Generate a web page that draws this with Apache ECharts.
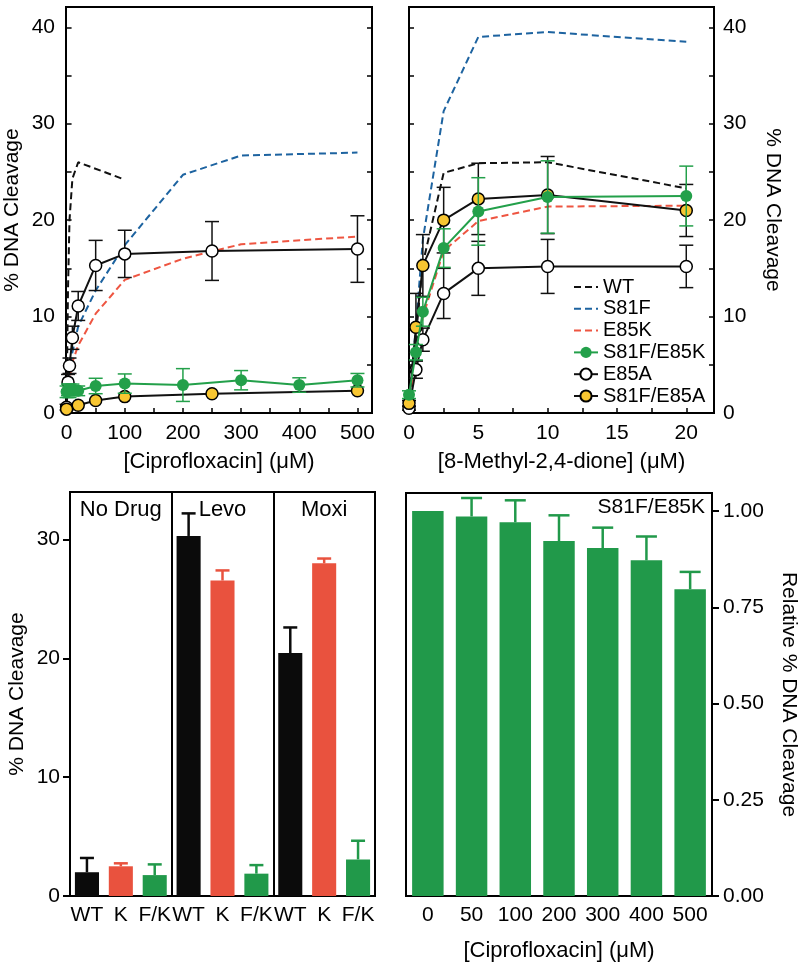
<!DOCTYPE html>
<html><head><meta charset="utf-8">
<script src="https://cdn.jsdelivr.net/npm/echarts@6/dist/echarts.min.js"></script>
<style>html,body{margin:0;padding:0;background:#fff}#c{width:800px;height:967px}</style>
</head><body><div id="c"></div>
<script>
// ---------- Panel A: [Ciprofloxacin] ----------
const cipWT_x = [0, 1, 2.5, 5, 10, 20, 100];
const cipWT_y = [0.5, 6, 13, 20, 24.3, 26, 24.2];
const cipS81F_x = [0, 5, 10, 20, 50, 100, 200, 300, 500];
const cipS81F_y = [0.5, 4, 6.3, 9, 12.7, 17.4, 24.7, 26.7, 27.0];
const cipE85K_x = [0, 5, 10, 20, 50, 100, 200, 300, 500];
const cipE85K_y = [0.5, 3.5, 5.3, 7, 10.3, 13.8, 16.0, 17.5, 18.3];
const cipFK_x = [0, 2.5, 5, 10, 20, 50, 100, 200, 300, 400, 500];
const cipFK_y = [2.2, 2.4, 2.3, 2.4, 2.3, 2.8, 3.05, 2.9, 3.4, 2.9, 3.4];
const cipFK_e = [0.6, 0.6, 0.7, 0.6, 0.5, 0.8, 1.0, 1.7, 1.0, 0.75, 0.7];
const cipE85A_x = [0, 2.5, 5, 10, 20, 50, 100, 250, 500];
const cipE85A_y = [0.6, 3.2, 4.9, 7.8, 11.1, 15.3, 16.5, 16.8, 17.0];
const cipE85A_e = [0.3, 0.8, 0.8, 1.2, 1.5, 2.6, 2.45, 3.05, 3.45];
const cipFA_x = [0, 20, 50, 100, 250, 500];
const cipFA_y = [0.4, 0.8, 1.3, 1.7, 2.0, 2.3];

// ---------- Panel B: [8-Methyl-2,4-dione] ----------
const metX = [0, 0.5, 1, 2.5, 5, 10, 20];
const metWT_y = [0.5, 8, 15.5, 24.9, 25.9, 26.0, 23.3];
const metS81F_y = [0.5, 9, 18, 31.3, 39.0, 39.5, 38.5];
const metE85K_y = [0.5, 6, 10, 16.8, 19.9, 21.4, 21.5];
const metFK_y = [1.9, 6.3, 10.5, 17.1, 20.9, 22.4, 22.5];
const metFK_e = [0.4, 0.8, 1.5, 2.0, 3.5, 3.75, 3.1];
const metE85A_y = [0.5, 4.5, 7.6, 12.4, 15.0, 15.2, 15.2];
const metE85A_e = [0.2, 0.9, 1.2, 2.6, 2.8, 2.8, 2.2];
const metFA_y = [1.0, 8.9, 15.3, 20.0, 22.2, 22.6, 21.0];
const metFA_e = [0.3, 3.5, 3.2, 3.4, 3.7, 4.0, 2.7];

// ---------- Panel C: bars ----------
const barCats = ['WT', 'K', 'F/K', 'WT', 'K', 'F/K', 'WT', 'K', 'F/K'];
const barVals = [2.0, 2.5, 1.76, 30.3, 26.55, 1.88, 20.45, 28.0, 3.08];
const barErr = [1.2, 0.25, 0.9, 1.9, 0.85, 0.72, 2.15, 0.4, 1.57];
const groupNames = ['No Drug', 'Levo', 'Moxi'];

// ---------- Panel D: relative ----------
const relCats = ['0', '50', '100', '200', '300', '400', '500'];
const relVals = [1.00, 0.986, 0.971, 0.922, 0.904, 0.872, 0.797];
const relErr = [0, 0.048, 0.057, 0.067, 0.053, 0.062, 0.045];

// ---------- styling ----------
const FONT = "'Liberation Sans', Arial, Helvetica, sans-serif";
const C_BLACK = '#111111', C_BLUE = '#1d63a0', C_RED = '#ee5541', C_GREEN = '#23a04a',
      C_YELLOW = '#f8c631', C_BAR_RED = '#e9523e', C_BAR_GREEN = '#21994a';
const barColorMap = { 'WT': '#0b0b0b', 'K': C_BAR_RED, 'F/K': C_BAR_GREEN };

const zip = (xs, ys) => xs.map((x, i) => [x, ys[i]]);
const errData = (xs, ys, es) => xs.map((x, i) => [x, ys[i] - es[i], ys[i] + es[i]]);

function errRender(capHalf, color, lw, upperOnly) {
  return function (params, api) {
    const x = api.value(0), lo = api.value(1), hi = api.value(2);
    if (hi - lo === 0) return null;
    const p1 = api.coord([x, lo]), p2 = api.coord([x, hi]);
    const style = { stroke: color, lineWidth: lw, fill: null };
    const ch = [
      { type: 'line', shape: { x1: p1[0], y1: p1[1], x2: p2[0], y2: p2[1] }, style },
      { type: 'line', shape: { x1: p2[0] - capHalf, y1: p2[1], x2: p2[0] + capHalf, y2: p2[1] }, style }
    ];
    if (!upperOnly) ch.push({ type: 'line', shape: { x1: p1[0] - capHalf, y1: p1[1], x2: p1[0] + capHalf, y2: p1[1] }, style });
    return { type: 'group', children: ch };
  };
}

const dashed = (name, color, data, xi, yi) => ({
  name, type: 'line', xAxisIndex: xi, yAxisIndex: yi, data, symbol: 'none', z: 2,
  lineStyle: { color, width: 2, type: [7, 4] }, itemStyle: { color }
});
const solid = (name, lineColor, fill, border, data, xi, yi, z) => ({
  name, type: 'line', xAxisIndex: xi, yAxisIndex: yi, data, symbol: 'circle', symbolSize: 12, z,
  lineStyle: { color: lineColor, width: 2 },
  itemStyle: { color: fill, borderColor: border, borderWidth: border === fill ? 0 : 1.5 }
});
const errSeries = (data, xi, yi, color, z, capHalf, lw, upperOnly) => ({
  type: 'custom', xAxisIndex: xi, yAxisIndex: yi, data, z, silent: true,
  encode: { x: 0, y: [1, 2] },
  renderItem: errRender(capHalf, color, lw, upperOnly)
});

const lbl = { color: '#000', fontSize: 21, fontFamily: FONT };
const nameStyleX = { color: '#000', fontSize: 22, fontFamily: FONT };
const nameStyleY = { color: '#000', fontSize: 21, fontFamily: FONT };
const range = (a, b, s) => { const r = []; for (let v = a; v <= b + 1e-9; v += s) r.push(+v.toFixed(4)); return r; };
const hiddenDot = { color: 'rgba(0,0,0,0)', borderWidth: 0 };

const option = {
  animation: false,
  backgroundColor: '#fff',
  textStyle: { fontFamily: FONT },
  grid: [
    { left: 66, top: 7, width: 306, height: 406, show: true, borderColor: '#000', borderWidth: 2, backgroundColor: 'transparent' },
    { left: 409, top: 7, width: 305, height: 406, show: true, borderColor: '#000', borderWidth: 2, backgroundColor: 'transparent' },
    { left: 70, top: 492, width: 305, height: 404, show: true, borderColor: '#000', borderWidth: 2, backgroundColor: 'transparent' },
    { left: 406, top: 493, width: 306, height: 403, show: true, borderColor: '#000', borderWidth: 2, backgroundColor: 'transparent' }
  ],
  legend: {
    orient: 'vertical', left: 573, top: 277, itemWidth: 24, itemHeight: 14, itemGap: 1.8,
    data: [
      { name: 'WT', itemStyle: hiddenDot },
      { name: 'S81F', itemStyle: hiddenDot },
      { name: 'E85K', itemStyle: hiddenDot },
      'S81F/E85K', 'E85A', 'S81F/E85A'
    ],
    textStyle: { color: '#000', fontSize: 20, fontFamily: FONT, lineHeight: 20 },
    padding: 0
  },
  xAxis: [
    { gridIndex: 0, type: 'value', min: -1, max: 525,
      axisLine: { show: false }, splitLine: { show: false },
      axisTick: { show: true, inside: true, length: 5, lineStyle: { color: '#000', width: 1.5 }, customValues: range(0, 500, 50) },
      axisLabel: { ...lbl, margin: 10, customValues: range(0, 500, 100) },
      name: '[Ciprofloxacin] (\u03bcM)', nameLocation: 'middle', nameGap: 38, nameTextStyle: nameStyleX },
    { gridIndex: 1, type: 'value', min: 0, max: 22,
      axisLine: { show: false }, splitLine: { show: false },
      axisTick: { show: true, inside: true, length: 5, lineStyle: { color: '#000', width: 1.5 }, customValues: range(0, 20, 2.5) },
      axisLabel: { ...lbl, margin: 10, customValues: range(0, 20, 5) },
      name: '[8-Methyl-2,4-dione] (\u03bcM)', nameLocation: 'middle', nameGap: 38, nameTextStyle: nameStyleX },
    { gridIndex: 2, type: 'category', data: barCats,
      axisLine: { show: false }, axisTick: { show: false }, splitLine: { show: false },
      axisLabel: { ...lbl, margin: 9, interval: 0 } },
    { gridIndex: 2, type: 'value', min: 0, max: 9, interval: 3, position: 'top',
      axisLine: { show: false }, axisTick: { show: false }, axisLabel: { show: false },
      splitLine: { show: true, lineStyle: { color: '#000', width: 2 } } },
    { gridIndex: 3, type: 'category', data: relCats,
      axisLine: { show: false }, axisTick: { show: false }, splitLine: { show: false },
      axisLabel: { ...lbl, margin: 9, interval: 0 },
      name: '[Ciprofloxacin] (\u03bcM)', nameLocation: 'middle', nameGap: 44, nameTextStyle: nameStyleX }
  ],
  yAxis: [
    { gridIndex: 0, type: 'value', min: 0, max: 42.1, position: 'left',
      axisLine: { show: false }, splitLine: { show: false },
      axisTick: { show: true, inside: true, length: 5, lineStyle: { color: '#000', width: 1.5 }, customValues: range(0, 40, 5) },
      axisLabel: { ...lbl, margin: 11, customValues: range(0, 40, 10) },
      name: '% DNA Cleavage', nameLocation: 'middle', nameRotate: 90, nameGap: 43, nameTextStyle: nameStyleY },
    { gridIndex: 0, type: 'value', min: 0, max: 42.1, position: 'right',
      axisLine: { show: false }, splitLine: { show: false },
      axisTick: { show: true, inside: true, length: 5, lineStyle: { color: '#000', width: 1.5 }, customValues: range(0, 40, 5) },
      axisLabel: { show: false } },
    { gridIndex: 1, type: 'value', min: 0, max: 42.1, position: 'left',
      axisLine: { show: false }, splitLine: { show: false },
      axisTick: { show: true, inside: true, length: 5, lineStyle: { color: '#000', width: 1.5 }, customValues: range(0, 40, 5) },
      axisLabel: { show: false } },
    { gridIndex: 1, type: 'value', min: 0, max: 42.1, position: 'right',
      axisLine: { show: false }, splitLine: { show: false },
      axisTick: { show: true, inside: true, length: 5, lineStyle: { color: '#000', width: 1.5 }, customValues: range(0, 40, 5) },
      axisLabel: { ...lbl, margin: 9, customValues: range(0, 40, 10) },
      name: '% DNA Cleavage', nameLocation: 'middle', nameRotate: -90, nameGap: 48, nameTextStyle: nameStyleY },
    { gridIndex: 2, type: 'value', min: 0, max: 34, interval: 10, position: 'left',
      axisLine: { show: false }, splitLine: { show: false },
      axisTick: { show: true, inside: false, length: 7, lineStyle: { color: '#000', width: 2 } },
      axisLabel: { ...lbl, margin: 10, showMaxLabel: false },
      name: '% DNA Cleavage', nameLocation: 'middle', nameRotate: 90, nameGap: 42, nameTextStyle: nameStyleY },
    { gridIndex: 3, type: 'value', min: 0, max: 1.047, position: 'right',
      axisLine: { show: false }, splitLine: { show: false },
      axisTick: { show: true, inside: false, length: 7, lineStyle: { color: '#000', width: 2 }, customValues: [0, 0.25, 0.5, 0.75, 1] },
      axisLabel: { ...lbl, margin: 11, customValues: [0, 0.25, 0.5, 0.75, 1], formatter: v => Number(v).toFixed(2) },
      name: 'Relative % DNA Cleavage', nameLocation: 'middle', nameRotate: -90, nameGap: 66, nameTextStyle: nameStyleY }
  ],
  graphic: [
    { type: 'text', right: 800 - 705, top: 497, style: { text: 'S81F/E85K', fill: '#000', font: '21px ' + FONT } }
  ],
  series: [
    // Panel A
    dashed('WT', C_BLACK, zip(cipWT_x, cipWT_y), 0, 0),
    dashed('S81F', C_BLUE, zip(cipS81F_x, cipS81F_y), 0, 0),
    dashed('E85K', C_RED, zip(cipE85K_x, cipE85K_y), 0, 0),
    errSeries(errData(cipE85A_x, cipE85A_y, cipE85A_e), 0, 0, C_BLACK, 3, 7, 1.5, false),
    solid('E85A', C_BLACK, '#ffffff', '#000000', zip(cipE85A_x, cipE85A_y), 0, 0, 4),
    solid('S81F/E85A', C_BLACK, C_YELLOW, '#000000', zip(cipFA_x, cipFA_y), 0, 0, 5),
    errSeries(errData(cipFK_x, cipFK_y, cipFK_e), 0, 0, C_GREEN, 6, 7, 1.5, false),
    solid('S81F/E85K', C_GREEN, C_GREEN, C_GREEN, zip(cipFK_x, cipFK_y), 0, 0, 7),
    // Panel B
    dashed('WT', C_BLACK, zip(metX, metWT_y), 1, 3),
    dashed('S81F', C_BLUE, zip(metX, metS81F_y), 1, 3),
    dashed('E85K', C_RED, zip(metX, metE85K_y), 1, 3),
    errSeries(errData(metX, metE85A_y, metE85A_e), 1, 3, C_BLACK, 3, 7, 1.5, false),
    solid('E85A', C_BLACK, '#ffffff', '#000000', zip(metX, metE85A_y), 1, 3, 4),
    errSeries(errData(metX, metFA_y, metFA_e), 1, 3, C_BLACK, 5, 7, 1.5, false),
    solid('S81F/E85A', C_BLACK, C_YELLOW, '#000000', zip(metX, metFA_y), 1, 3, 5),
    errSeries(errData(metX, metFK_y, metFK_e), 1, 3, C_GREEN, 6, 7, 1.5, false),
    solid('S81F/E85K', C_GREEN, C_GREEN, C_GREEN, zip(metX, metFK_y), 1, 3, 7),
    // Panel C
    { type: 'bar', xAxisIndex: 2, yAxisIndex: 4, barWidth: '71%', z: 2,
      data: barVals.map((v, i) => ({ value: v, itemStyle: { color: barColorMap[barCats[i]] } })) },
    { type: 'custom', xAxisIndex: 2, yAxisIndex: 4, z: 1, silent: true,
      data: barVals.map((v, i) => [i, v, v + barErr[i]]), encode: { x: 0, y: [1, 2] },
      renderItem: function (params, api) {
        const i = api.value(0);
        return errRender(7, barColorMap[barCats[i]], 2.5, true)(params, api);
      } },
    { type: 'scatter', xAxisIndex: 3, yAxisIndex: 4, symbolSize: 0, itemStyle: { color: '#000' }, silent: true, z: 10,
      data: groupNames.map((n, i) => ({ name: n, value: [1.5 + 3 * i, 32.5] })),
      label: { show: true, position: 'inside', formatter: '{b}', color: '#000', opacity: 1, fontSize: 22, fontFamily: FONT } },
    // Panel D
    { type: 'bar', xAxisIndex: 4, yAxisIndex: 5, barWidth: '72%', z: 2, itemStyle: { color: C_BAR_GREEN }, data: relVals },
    { type: 'custom', xAxisIndex: 4, yAxisIndex: 5, z: 1, silent: true,
      data: relVals.map((v, i) => [i, v, v + relErr[i]]), encode: { x: 0, y: [1, 2] },
      renderItem: errRender(10.5, C_BAR_GREEN, 2.5, true) }
  ]
};
const chart = echarts.init(document.getElementById('c'), null, { renderer: 'canvas' });
chart.setOption(option);
</script></body></html>
